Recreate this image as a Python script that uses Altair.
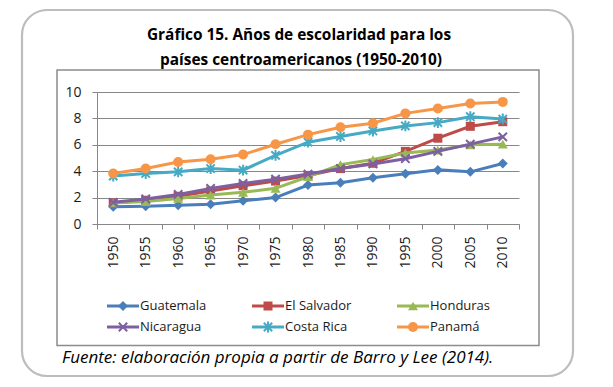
import altair as alt
import pandas as pd

years = [1950, 1955, 1960, 1965, 1970, 1975, 1980, 1985, 1990, 1995, 2000, 2005, 2010]
guatemala = [1.31, 1.35, 1.42, 1.50, 1.76, 2.00, 2.95, 3.12, 3.50, 3.80, 4.10, 3.95, 4.58]
el_salvador = [1.60, 1.80, 2.10, 2.50, 2.90, 3.25, 3.68, 4.20, 4.60, 5.50, 6.50, 7.40, 7.75]
honduras = [1.60, 1.70, 1.94, 2.19, 2.40, 2.70, 3.58, 4.50, 4.88, 5.38, 5.60, 6.00, 6.05]
nicaragua = [1.64, 1.90, 2.24, 2.70, 3.07, 3.40, 3.78, 4.20, 4.55, 4.95, 5.50, 6.05, 6.60]
costa_rica = [3.63, 3.83, 3.95, 4.20, 4.08, 5.20, 6.20, 6.63, 7.05, 7.43, 7.68, 8.13, 7.95]
panama = [3.83, 4.20, 4.70, 4.90, 5.26, 6.04, 6.77, 7.33, 7.63, 8.38, 8.75, 9.13, 9.25]

names = ["Guatemala", "El Salvador", "Honduras", "Nicaragua", "Costa Rica", "Panamá"]
series = [guatemala, el_salvador, honduras, nicaragua, costa_rica, panama]
legend_col = [0, 1, 2, 0, 1, 2]
legend_row = [0, 0, 0, 1, 1, 1]

title_lines = ["Gráfico 15. Años de escolaridad para los", "países centroamericanos (1950-2010)"]
caption = "Fuente: elaboración propia a partir de Barro y Lee (2014)."

# styles
colors = ["#4A7EBB", "#BE4B48", "#98B954", "#7D60A0", "#46AAC5", "#F79646"]
X_PATH = "M-1,-1L1,1M-1,1L1,-1"
AST_PATH = "M-1,-1L1,1M-1,1L1,-1M0,-1.3L0,1.3"
shapes = ["diamond", "square", "triangle-up", X_PATH, AST_PATH, "circle"]
filled = [True, True, True, False, False, True]
sizes = [100, 81, 100, 70, 70, 100]
FONT = "Open Sans"
GRID = "#878787"
TXT = "#1a1a1a"

x_enc = alt.X(
    "year:O",
    scale=alt.Scale(type="band", paddingInner=0, paddingOuter=0),
    bandPosition=0.5,
    axis=alt.Axis(
        title=None, labelAngle=270, tickBand="extent", grid=False,
        domainColor=GRID, tickColor=GRID, tickSize=5, labelPadding=7,
        labelFontSize=14, labelFont=FONT, labelColor=TXT,
    ),
)
y_enc = alt.Y(
    "value:Q",
    scale=alt.Scale(domain=[0, 10], nice=False),
    axis=alt.Axis(
        title=None, values=[0, 2, 4, 6, 8, 10], grid=True, gridColor=GRID,
        domainColor=GRID, tickColor=GRID, tickSize=5, labelPadding=11,
        labelFontSize=14, labelFont=FONT, labelColor=TXT,
    ),
)

main_layers = []
for i, name in enumerate(names):
    df = pd.DataFrame({"year": years, "value": series[i]})
    base = alt.Chart(df).encode(x=x_enc, y=y_enc)
    main_layers.append(base.mark_line(color=colors[i], strokeWidth=3))
    if filled[i]:
        pt = base.mark_point(shape=shapes[i], filled=True, size=sizes[i],
                             color=colors[i], opacity=1)
    else:
        pt = base.mark_point(shape=shapes[i], filled=False, size=sizes[i],
                             color=colors[i], opacity=1, strokeWidth=2)
    main_layers.append(pt)

main = alt.layer(*main_layers)

lx = alt.X("col:Q", scale=alt.Scale(domain=[0, 2], range=[26, 316]), axis=None)
ly = alt.Y("row:Q", scale=alt.Scale(domain=[0, 1], range=[214, 235]), axis=None)

legend_layers = []
for i, name in enumerate(names):
    ldf = pd.DataFrame({"col": [legend_col[i]], "row": [legend_row[i]], "name": [name]})
    lb = alt.Chart(ldf).encode(x=lx, y=ly)
    legend_layers.append(
        alt.Chart(ldf).mark_rule(color=colors[i], strokeWidth=3, xOffset=-16, x2Offset=16)
        .encode(x=lx, x2=alt.X2("col"), y=ly)
    )
    if filled[i]:
        legend_layers.append(lb.mark_point(shape=shapes[i], filled=True, size=sizes[i],
                                           color=colors[i], opacity=1))
    else:
        legend_layers.append(lb.mark_point(shape=shapes[i], filled=False, size=sizes[i],
                                           color=colors[i], opacity=1, strokeWidth=2))
    legend_layers.append(lb.mark_text(align="left", baseline="middle", dx=17, fontSize=13,
                                      font=FONT, color=TXT).encode(text="name:N"))

dummy = pd.DataFrame({"a": [0]})
outer = alt.Chart(dummy).mark_rect(fillOpacity=0, stroke="#BDBDBD", strokeWidth=2.2,
                                   cornerRadius=25).encode(
    x=alt.value(-75), x2=alt.value(476), y=alt.value(-82), y2=alt.value(284))
inner = alt.Chart(dummy).mark_rect(fillOpacity=0, stroke="#8C8C8C", strokeWidth=1.5).encode(
    x=alt.value(-40), x2=alt.value(442), y=alt.value(-22), y2=alt.value(253.5))
title1 = alt.Chart(dummy).mark_text(align="center", baseline="middle", fontWeight="bold",
                                    fontSize=15.4, font=FONT, color="#000000").encode(
    x=alt.value(202), y=alt.value(-57), text=alt.value(title_lines[0]))
title2 = alt.Chart(dummy).mark_text(align="center", baseline="middle", fontWeight="bold",
                                    fontSize=15.4, font=FONT, color="#000000").encode(
    x=alt.value(204), y=alt.value(-32), text=alt.value(title_lines[1]))
cap = alt.Chart(dummy).mark_text(align="left", baseline="middle", fontStyle="italic",
                                 fontSize=17, font=FONT, color="#000000").encode(
    x=alt.value(-35), y=alt.value(266), text=alt.value(caption))

legend_group = alt.layer(outer, inner, *legend_layers, title1, title2, cap)

chart = alt.layer(main, legend_group).resolve_scale(
    x="independent", y="independent"
).properties(
    width=422,
    height=132,
    padding={"left": 89, "top": 84, "right": 86, "bottom": 155},
    autosize=alt.AutoSizeParams(type="none"),
    background="white",
).configure_view(strokeWidth=0)

chart.save("out.html", embed_options={"renderer": "svg", "actions": False})
